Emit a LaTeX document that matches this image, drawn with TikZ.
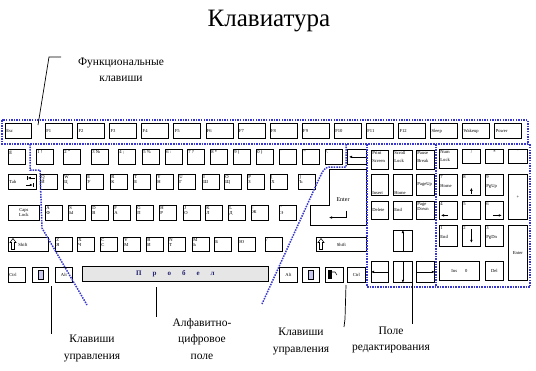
\documentclass[tikz,border=0pt]{standalone}
\usepackage{fontspec}
\setmainfont{Liberation Serif}
\usetikzlibrary{arrows.meta}
\definecolor{regblue}{RGB}{55,55,205}
\definecolor{spacegray}{RGB}{230,230,230}
\definecolor{winfill}{RGB}{200,200,240}
\definecolor{spacetxt}{RGB}{30,30,110}

\begin{document}
\begin{tikzpicture}[x=1pt, y=-1pt, >={Latex[length=3pt,width=2.6pt]},
  font=\fontsize{4.6}{5}\selectfont,
  key/.style={draw, line width=0.8pt, anchor=north west, inner sep=0pt, align=center, minimum width=17, minimum height=15},
  keylab/.style={anchor=north west, inner sep=1.2pt, align=left, font=\fontsize{4.6}{5}\selectfont},
  tl/.style={label={[keylab]north west:{#1}}},
  ml/.style={label={[keylab, anchor=west]west:{#1}}},
  bl/.style={label={[keylab, anchor=south west]south west:{#1}}},
  tc/.style={label={[keylab, anchor=north]north:{#1}}},
  keyline/.style={draw, line width=0.8pt},
  glyph/.style={line width=0.55pt},
  region/.style={draw=regblue, line width=1.5pt, dash pattern=on 1.5pt off 1.1pt},
  leader/.style={draw, line width=0.7pt},
  caption/.style={font=\fontsize{11.5}{16.5}\selectfont, align=center}]
\useasboundingbox (0,0) rectangle (536,370);
% ---------------- titles
\node[font=\fontsize{25}{28}\selectfont] (title) at (269,21) {Клавиатура};
\node[caption] (fnlab) at (121,70) {Функциональные\\клавиши};
% ---------------- function row
\node[key, minimum width=26, ml=Esc] (esc) at (5,123) {};
\foreach \lab [count=\i from 0] in {F1,F2,F3,F4,F5,F6,F7,F8,F9,F10,F11,F12,Sleep,Wakeup,Power}
  \node[key, minimum width=27, ml=\lab] (f\i) at ({45+32.1*\i},123) {};
% ---------------- alphanumeric block
\node[key, tl=Ё] (yo) at (8,149) {};
\foreach \x/\lab [count=\i] in {36/{1 !},63/{2 "},91/{3 №},118/{4 ;},142/{5 \%},165/{6 :},187/{7 ?},210/{8 *},233/{9 (},256/{0 )},279/{-},302/{=},325/{\textbackslash}}
  \node[key, tl={\lab}] (d\i) at (\x,149) {};
\node[key, minimum width=19] (bs) at (347,149) {};
\draw[->, glyph] (bs.east) -- ([xshift=2pt]bs.west);
\node[key, minimum width=28, ml=Tab] (tab) at (8,174) {};
\draw[->, glyph] ([shift={(-2,4)}]tab.north east) -- ++(-7,0);
\draw[glyph] ([shift={(-9.5,2)}]tab.north east) -- ++(0,4);
\draw[->, glyph] ([shift={(-11,11)}]tab.north east) -- ++(7,0);
\draw[glyph] ([shift={(-3.5,9)}]tab.north east) -- ++(0,4);
\foreach \x/\lab [count=\i] in {40/{Q\\Й},63/{W\\Ц},86/{E\\У},110/{R\\К},133/{T\\Е},156/{Y\\Н},178/{U\\Г},202/{I\\Ш},224/{O\\Щ},247/{P\\З},270/{[\\Х},298/{]\\Ъ}}
  \node[key, tl={\lab}] (q\i) at (\x,174) {};
\coordinate (ent) at (329,169);
\draw[keyline] (ent) -- ++(37,0) -- ++(0,56) -- ++(-56,0) -- ++(0,-20) -- ++(19,0) -- cycle;
\node[font=\fontsize{6}{6}\selectfont] (entlab) at (343,200) {Enter};
\draw[->, glyph] ([shift={(3,5)}]entlab.south) |- ++(-17,7);
\node[key, minimum width=31] (caps) at (8,205) {Caps\\Lock};
\foreach \x/\lab [count=\i] in {45/{A\\Ф},68/{S\\Ы},91/{D\\В},113/{F\\А},136/{G\\П},159/{H\\Р},183/{J\\О},205/{K\\Л},228/{L\\Д},251/{;\\Ж},279/{'\\Э}}
  \node[key, tl={\lab}] (a\i) at (\x,205) {};
\node[key, minimum width=40, minimum height=14, label={[keylab, anchor=west, xshift=9pt]west:Shift}] (lsh) at (8,237) {};
\foreach \x/\lab [count=\i] in {55/{Z\\Я},77/{X\\Ч},100/{C\\С},123/{V\\М},146/{B\\И},168/{N\\Т},192/{M\\Ь},214/{,\\Б},238/{.\\Ю},265/{/}}
  \node[key, minimum height=14, tl={\lab}] (z\i) at (\x,237) {};
\node[key, minimum width=50, minimum height=14] (rsh) at (316,237) {Shift};
\foreach \k in {lsh,rsh}
  \draw[glyph] ([shift={(2,1.5)}]\k.north west) ++(3,0) -- ++(3,4) -- ++(-1.5,0) -- ++(0,7) -- ++(-3,0) -- ++(0,-7) -- ++(-1.5,0) -- cycle;
\node[key, ml=Ctrl] (lctrl) at (8,267) {};
\node[key, minimum width=16] (lwin) at (32,267) {};
\node[key] (lalt) at (55,267) {Alt};
\node[key, minimum width=186, fill=spacegray, font=\fontsize{7}{8}\selectfont\bfseries, text=spacetxt] (space) at (82,266)
  {П\hspace{11pt}р\hspace{11pt}о\hspace{11pt}б\hspace{11pt}е\hspace{11pt}л};
\node[key, minimum width=18] (ralt) at (279,267) {Alt};
\node[key] (rwin) at (302,267) {};
\node[key, minimum width=18] (menu) at (325,267) {};
\node[key, minimum width=18] (rctrl) at (347,267) {Ctrl};
\foreach \k in {lwin,rwin}
  \draw[glyph, fill=winfill] ([shift={(6,3)}]\k.north west) rectangle ++(5,9);
\fill ([shift={(3,2.5)}]menu.north west) rectangle ++(4,9);
\draw[glyph] ([shift={(7,5)}]menu.north west) -- ++(3,0) -- ++(2,3);
% ---------------- editing keys
\node[key, minimum height=19, tl={Print\\[3pt]Screen}] (prt) at (371,150) {};
\node[key, minimum width=19, minimum height=19, tl={Scroll\\[3pt]Lock}] (scr) at (393,150) {};
\node[key, minimum width=18, minimum height=19, tl={Pause\\[3pt]Break}] (pause) at (416,150) {};
\node[key, minimum height=21, bl=Insert] (ins) at (371,174) {};
\node[key, minimum width=19, minimum height=21, bl=Home] (home) at (393,174) {};
\node[key, minimum width=18, minimum height=21, ml=PageUp] (pgup) at (416,174) {};
\node[key, minimum height=18, ml=Delete] (del) at (371,201) {};
\node[key, minimum width=19, minimum height=18, ml=End] (endk) at (393,201) {};
\node[key, minimum width=18, minimum height=18, tl={Page\\Down}] (pgdn) at (416,201) {};
\node[key, minimum width=19, minimum height=21] (up) at (393,230) {};
\node[key, minimum height=21] (lft) at (371,261) {};
\node[key, minimum width=19, minimum height=21] (dn) at (393,261) {};
\node[key, minimum width=18, minimum height=21] (rgt) at (416,261) {};
\draw[->, glyph] (up.south) -- (up.north);
\draw[->, glyph] (lft.east) -- (lft.west);
\draw[->, glyph] (dn.north) -- (dn.south);
\draw[->, glyph] (rgt.west) -- (rgt.east);
% ---------------- numeric keypad
\node[key, minimum width=18, minimum height=19, tl={Num\\[3pt]Lock}] (num) at (439,149) {};
\node[key, minimum width=18, minimum height=14, tc=/] (div) at (462,149) {};
\node[key, minimum width=18, minimum height=14, tc=*] (mul) at (485,149) {};
\node[key, minimum width=19, minimum height=14, tc=-] (minus) at (508,149) {};
\node[key, minimum width=18, minimum height=21, tl={7\\[4pt]Home}] (n7) at (439,174) {};
\node[key, minimum width=18, minimum height=21, tl=8] (n8) at (462,174) {};
\node[key, minimum width=18, minimum height=21, tl={9\\[4pt]PgUp}] (n9) at (485,174) {};
\node[key, minimum width=19, minimum height=45] (plus) at (508,174) {+};
\node[key, minimum width=18, minimum height=18, tl=4] (n4) at (439,201) {};
\node[key, minimum width=18, minimum height=18, tl=5] (n5) at (462,201) {};
\node[key, minimum width=18, minimum height=18, tl=6] (n6) at (485,201) {};
\node[key, minimum width=18, minimum height=21, tl={1\\[4pt]End}] (n1) at (439,225) {};
\node[key, minimum width=18, minimum height=21, tl=2] (n2) at (462,225) {};
\node[key, minimum width=18, minimum height=21, tl={3\\[4pt]PgDn}] (n3) at (485,225) {};
\node[key, minimum width=19, minimum height=55] (nent) at (508,225) {Enter};
\node[key, minimum width=40, minimum height=19] (n0) at (439,261) {Ins\hspace{8pt}0};
\node[key, minimum width=18, minimum height=19] (ndel) at (485,261) {Del};
\draw[->, glyph] ([yshift=2pt]n8.south) -- ++(0,-6);
\draw[->, glyph] ([yshift=-4pt]n2.north) -- ([yshift=4pt]n2.south);
\draw[->, glyph] ([shift={(9,5)}]n4.west) -- ++(-7,0);
\draw[->, glyph] ([shift={(-11,5)}]n6.east) -- ++(9,0);
% ---------------- key groups
\draw[region] (2,120) rectangle (528,144);
\draw[region] (30,144) -- (30,170) -- (40,170) -- (42,228) -- (87,305);
\draw[region] (346,144) -- (346,167) -- (329,167) .. controls (324,167) and (322,173) .. (318,181) -- (262,304);
\draw[region] (367,144) -- (367,287) -- (530,287) -- (530,144);
\draw[region] (436,144) -- (436,287);
% ---------------- leaders and captions
\coordinate (fn) at (61,57);
\draw[leader] (fn) -- ++(-12,0) -- (38,125);
\coordinate (lc) at (51,286);
\draw[leader] (lc) -- ++(0,48);
\coordinate (an) at (156,287);
\draw[leader] (an) -- ++(0,30);
\coordinate (rc) at (346,285);
\draw[leader] (rc) -- ++(-1,34) -- ++(-1,8);
\coordinate (ed) at (412,283);
\draw[leader] (ed) -- ++(0,41);
\node[caption] (lclab) at (92,348.5) {Клавиши\\управления};
\node[caption] (anlab) at (202,339) {Алфавитно-\\цифровое\\поле};
\node[caption] (rclab) at (301,341.5) {Клавиши\\управления};
\node[caption] (edlab) at (391,340) {Поле\\редактирования};
\end{tikzpicture}
\end{document}
